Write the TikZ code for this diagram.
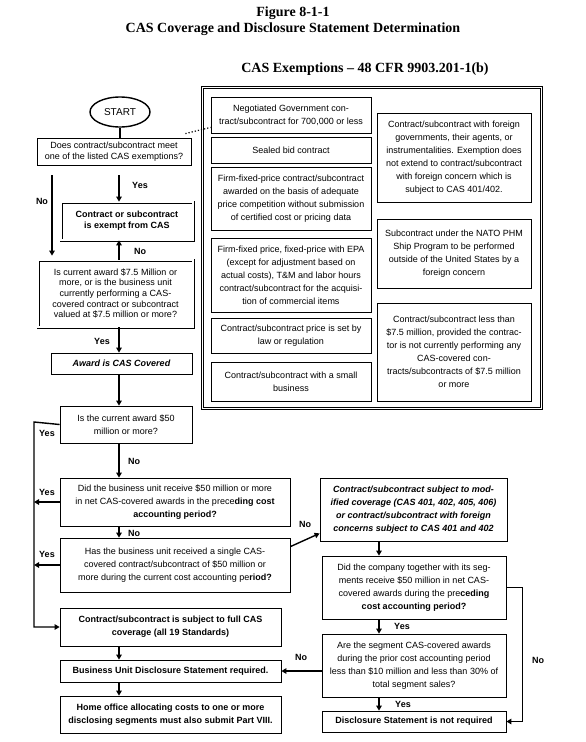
\documentclass[tikz,border=0pt]{standalone}
\usepackage{fontspec}
\setmainfont{Liberation Sans}
\newfontfamily\headfont{Liberation Serif}
\usetikzlibrary{shapes.geometric,arrows.meta}
\begin{document}
\begin{tikzpicture}[x=1pt,y=-1pt,
    box/.style={draw,line width=0.8pt,inner sep=0pt,align=center,font=\fontsize{9}{13}\selectfont},
    tight/.style={font=\fontsize{9}{10.7}\selectfont},
    bold/.style={font=\fontsize{9}{13}\selectfont\bfseries},
    boldit/.style={font=\fontsize{9}{13}\selectfont\bfseries\itshape},
    dbox/.style={box,double,double distance=1.4pt},
    flow/.style={line width=1.4pt,-{Triangle[length=5pt,width=5.5pt]}},
    lbl/.style={font=\fontsize{9}{10}\selectfont\bfseries},
    head/.style={font=\headfont\bfseries\fontsize{14}{16}\selectfont}]
  \useasboundingbox (0,0) rectangle (586,742);
  \node[head] (fig) at (293,13) {Figure 8-1-1};
  \node[head] (ttl) at (293,29) {CAS Coverage and Disclosure Statement Determination};
  \node[head] (exh) at (365,69) {CAS Exemptions – 48 CFR 9903.201-1(b)};
  % exemption list
  \node[draw,double,double distance=1.8pt,line width=0.9pt,minimum width=339pt,minimum height=321pt] (exframe) at (372,248) {};
  \node[box,minimum width=160pt,minimum height=36pt] (ex1) at (291,115) {Negotiated Government con-\\tract/subcontract for 700,000 or less};
  \node[box,minimum width=160pt,minimum height=26pt] (ex2) at (291,150) {Sealed bid contract};
  \node[box,minimum width=160pt,minimum height=63pt] (ex3) at (291,198.5) {Firm-fixed-price contract/subcontract\\awarded on the basis of adequate\\price competition without submission\\of certified cost or pricing data};
  \node[box,minimum width=160pt,minimum height=74pt] (ex4) at (291,275) {Firm-fixed price, fixed-price with EPA\\(except for adjustment based on\\actual costs), T\&M and labor hours\\contract/subcontract for the acquisi-\\tion of commercial items};
  \node[box,minimum width=160pt,minimum height=35pt] (ex5) at (291,335.5) {Contract/subcontract price is set by\\law or regulation};
  \node[box,minimum width=160pt,minimum height=39pt] (ex6) at (291,381.5) {Contract/subcontract with a small\\business};
  \node[box,minimum width=154pt,minimum height=89pt] (ex7) at (454,157.5) {Contract/subcontract with foreign\\governments, their agents, or\\instrumentalities. Exemption does\\not extend to contract/subcontract\\with foreign concern which is\\subject to CAS 401/402.};
  \node[box,minimum width=154pt,minimum height=69pt] (ex8) at (454,253.5) {Subcontract under the NATO PHM\\Ship Program to be performed\\outside of the United States by a\\foreign concern};
  \node[box,minimum width=154pt,minimum height=98pt] (ex9) at (454,352) {Contract/subcontract less than\\\$7.5 million, provided the contrac-\\tor is not currently performing any\\CAS-covered con-\\tracts/subcontracts of \$7.5 million\\or more};
  % main flow
  \node[draw,ellipse,line width=1.4pt,minimum width=60pt,minimum height=30pt,inner sep=0pt,font=\fontsize{10}{12}\selectfont] (start) at (120,112) {START};
  \node[box,tight,minimum width=154pt,minimum height=27pt] (q1) at (114,151.5) {Does contract/subcontract meet\\one of the listed CAS exemptions?};
  \node[dbox,font=\fontsize{9}{11}\selectfont\bfseries,minimum width=132pt,minimum height=38pt] (exempt) at (127,221) {Contract or subcontract\\is exempt from CAS};
  \node[dbox,tight,minimum width=155pt,minimum height=67pt] (curr) at (115.5,293.5) {Is current award \$7.5 Million or\\more, or is the business unit\\currently performing a CAS-\\covered contract or subcontract\\valued at \$7.5 million or more?};
  \node[box,boldit,minimum width=141pt,minimum height=21pt] (award) at (121.5,363.5) {Award is CAS Covered};
  \node[box,minimum width=132pt,minimum height=37pt] (q50) at (126,424.5) {Is the current award \$50\\million or more?};
  \node[box,minimum width=230pt,minimum height=48pt] (qbu) at (175,502) {Did the business unit receive \$50 million or more\\in net CAS-covered awards in the prece\textbf{ding cost}\\\textbf{accounting period?}};
  \node[box,minimum width=230pt,minimum height=54pt] (qone) at (175,565) {Has the business unit received a single CAS-\\covered contract/subcontract of \$50 million or\\more during the current cost accounting pe\textbf{riod?}};
  \node[box,bold,minimum width=221pt,minimum height=38pt] (full) at (170.5,627) {Contract/subcontract is subject to full CAS\\coverage (all 19 Standards)};
  \node[box,bold,minimum width=221pt,minimum height=22pt] (bu) at (170.5,671) {Business Unit Disclosure Statement required.};
  \node[box,bold,minimum width=221pt,minimum height=37pt] (home) at (170.5,714.5) {Home office allocating costs to one or more\\disclosing segments must also submit Part VIII.};
  \node[box,boldit,minimum width=187pt,minimum height=63pt] (mod) at (413.5,509.5) {Contract/subcontract subject to mod-\\ified coverage (CAS 401, 402, 405, 406)\\or contract/subcontract with foreign\\concerns subject to CAS 401 and 402};
  \node[box,minimum width=184pt,minimum height=63pt] (qco) at (414,587.5) {Did the company together with its seg-\\ments receive \$50 million in net CAS-\\covered awards during the pre\textbf{ceding}\\\textbf{cost accounting period?}};
  \node[box,minimum width=184pt,minimum height=63pt] (qseg) at (414,665.5) {Are the segment CAS-covered awards\\during the prior cost accounting period\\less than \$10 million and less than 30\% of\\total segment sales?};
  \node[box,bold,minimum width=184pt,minimum height=21pt] (notreq) at (414,721.5) {Disclosure Statement is not required};
  \coordinate (ax) at (119,0);
  \coordinate (nx) at (52,0);
  \coordinate (yx) at (34,422);
  \coordinate (rx) at (379,0);
  \draw[line width=1.4pt] (start.south) -- (start.south |- q1.north);
  \draw[dotted,line width=1.2pt] (q1.north east) ++(-6,-4) -- ([yshift=6pt]ex1.south west);
  \draw[flow] (q1.south -| ax) ++(0,10) -- (exempt.north -| ax);
  \draw[flow,shorten >=4pt] (q1.south -| nx) ++(0,10) -- (curr.north -| nx);
  \draw[flow] (curr.north -| ax) -- (exempt.south -| ax);
  \draw[flow] (curr.south -| ax) -- (award.north -| ax);
  \draw[flow] (award.south -| ax) -- (q50.north -| ax);
  \draw[flow] (q50.west) -- (yx) |- (full.west);
  \draw[flow] (q50.south -| ax) -- (qbu.north -| ax);
  \draw[flow] (qbu.west) -- (qbu.west -| yx);
  \draw[flow] (qbu.south -| ax) -- (qone.north -| ax);
  \draw[flow] (qone.west) -- (qone.west -| yx);
  \draw[flow] (qone.north east) ++(0,9) -- ([yshift=8pt]mod.south west);
  \draw[flow] (full.south -| ax) -- (bu.north -| ax);
  \draw[flow] (bu.south -| ax) -- (home.north -| ax);
  \draw[flow] (mod.south -| rx) -- (qco.north -| rx);
  \draw[flow] (qco.south -| rx) -- (qseg.north -| rx);
  \draw[flow] (qseg.south -| rx) -- (notreq.north -| rx);
  \draw[flow] (qco.east) -- ++(16,0) |- (notreq.east);
  \draw[flow] (qseg.west |- bu.east) -- (bu.east);
  % yes / no labels
  \node[lbl] (l1) at (140,185) {Yes};
  \node[lbl] (l2) at (42,201) {No};
  \node[lbl] (l3) at (140,251) {No};
  \node[lbl] (l4) at (102,341) {Yes};
  \node[lbl] (l5) at (47,433) {Yes};
  \node[lbl] (l6) at (134,461) {No};
  \node[lbl] (l7) at (47,492) {Yes};
  \node[lbl] (l8) at (134,533) {No};
  \node[lbl] (l9) at (47,554) {Yes};
  \node[lbl] (l10) at (305,524) {No};
  \node[lbl] (l11) at (402,626) {Yes};
  \node[lbl] (l12) at (538,660) {No};
  \node[lbl] (l13) at (301,657) {No};
  \node[lbl] (l14) at (403,704) {Yes};
\end{tikzpicture}
\end{document}
